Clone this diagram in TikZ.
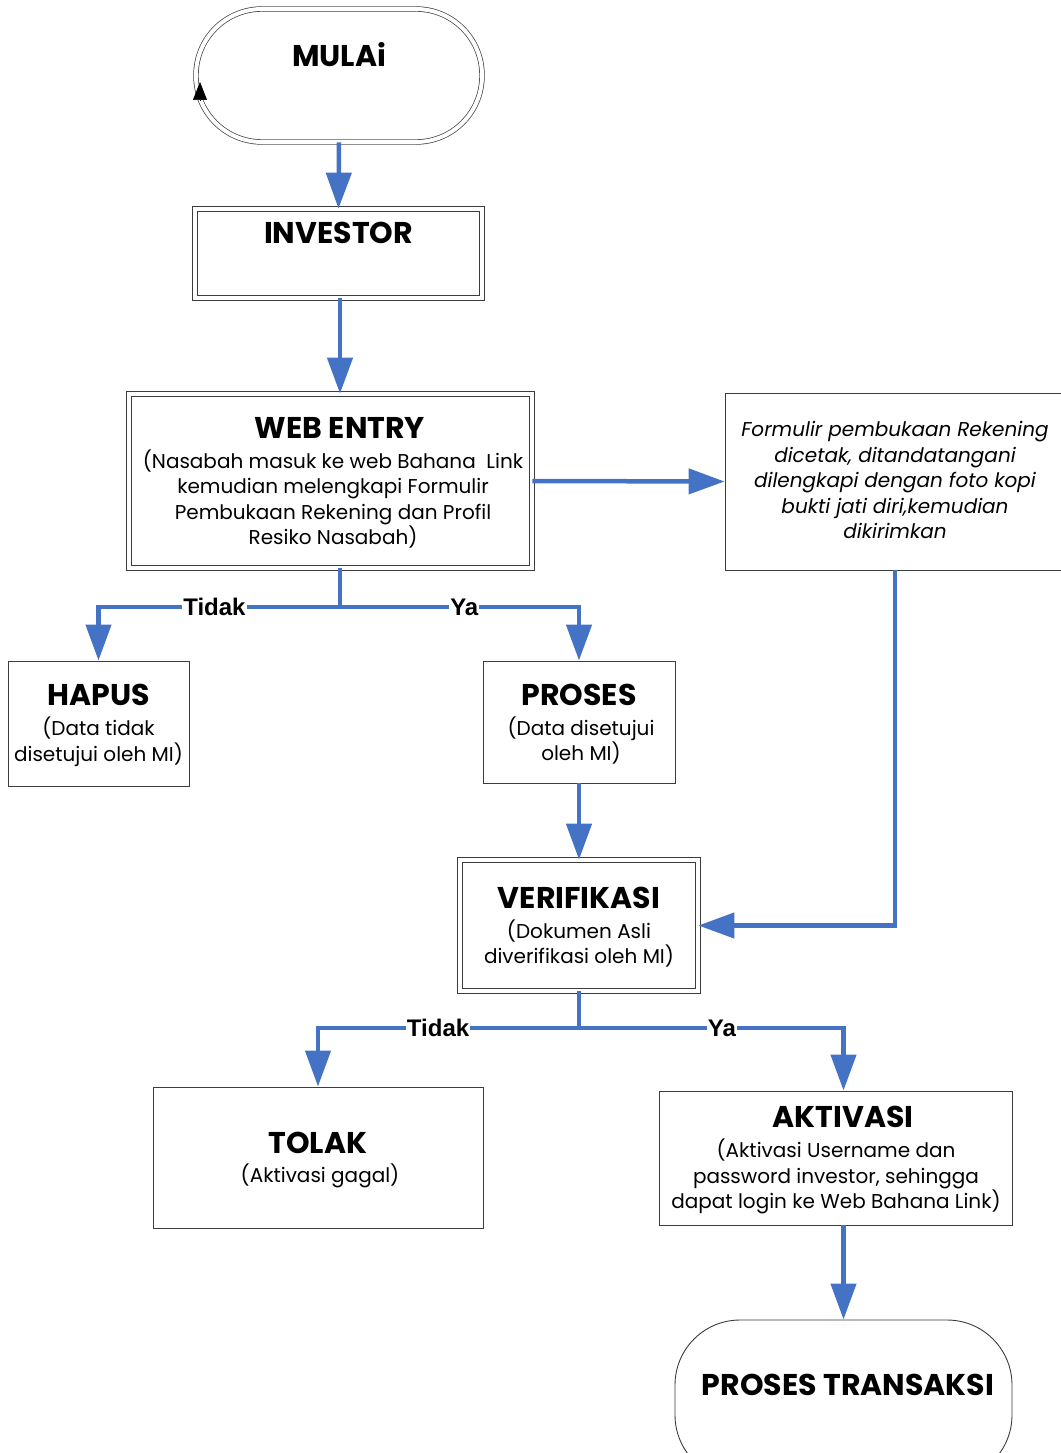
\documentclass[tikz,border=0pt]{standalone}
\usepackage{fontspec}
\setmainfont{Poppins}
\newfontfamily\arialfont{Liberation Sans}
\usetikzlibrary{arrows.meta}
\definecolor{biru}{RGB}{68,114,196}
\definecolor{abu}{RGB}{60,60,60}
\begin{document}
\begin{tikzpicture}[x=1pt, y=-1pt]
 \tikzset{kotak/.style={draw=abu, line width=0.9pt, inner sep=0pt},
          ganda/.style={kotak, double, double distance=4pt, line width=0.7pt},
          judul/.style={font=\fontsize{30}{34}\selectfont\bfseries},
          isi/.style={font=\fontsize{20}{25.5}\selectfont, align=center},
          panah/.style={draw=biru, line width=4.5pt, -{Triangle[length=36pt,width=25pt]}},
          garis/.style={draw=biru, line width=4.5pt},
          ket/.style={font=\arialfont\fontsize{24}{26}\selectfont\bfseries, fill=white, inner sep=1pt}}
 \useasboundingbox (0,0) rectangle (1060,1453);
  \node[ganda, rounded corners=66pt, minimum width=286pt, minimum height=133pt] (Mulai) at (339,75.5) {};
  \node[judul] (MulaiText) at (339,55) {MULAi};
  \node[ganda, minimum width=287pt, minimum height=89pt] (Investor) at (338.5,253.5) {};
  \node[judul] (InvestorText) at (338.5,233) {INVESTOR};
  \node[ganda, minimum width=403pt, minimum height=174pt] (WebEntry) at (330.5,481) {};
  \node[judul] (WebEntryText) at (340,428) {WEB ENTRY};
  \node[isi] (WebEntryIsi) at (333,499) {(Nasabah masuk ke web Bahana\ \ Link\\ kemudian melengkapi Formulir\\ Pembukaan Rekening dan Profil\\ Resiko Nasabah)};
  \node[kotak, minimum width=340pt, minimum height=177pt] (Formulir) at (895,481.5) {};
  \node[isi, font=\fontsize{20}{25.5}\selectfont\itshape] (FormulirIsi) at (895,480) {Formulir pembukaan Rekening\\ dicetak, ditandatangani\\ dilengkapi dengan foto kopi\\ bukti jati diri,kemudian\\ dikirimkan};
  \node[kotak, minimum width=181pt, minimum height=125pt] (Hapus) at (98.5,723.5) {};
  \node[judul] (HapusText) at (98.5,695) {HAPUS};
  \node[isi] (HapusIsi) at (98.5,742) {(Data tidak\\ disetujui oleh MI)};
  \node[kotak, minimum width=192pt, minimum height=122pt] (Proses) at (579,722) {};
  \node[judul] (ProsesText) at (579,695) {PROSES};
  \node[isi] (ProsesIsi) at (581,740.5) {(Data disetujui\\ oleh MI)};
  \node[ganda, minimum width=238pt, minimum height=131pt] (Verifikasi) at (579,925.5) {};
  \node[judul] (VerifikasiText) at (579,898) {VERIFIKASI};
  \node[isi] (VerifikasiIsi) at (579,943.5) {(Dokumen Asli\\ diverifikasi oleh MI)};
  \node[kotak, minimum width=330pt, minimum height=141pt] (Tolak) at (318,1157.5) {};
  \node[judul] (TolakText) at (318,1143) {TOLAK};
  \node[isi] (TolakIsi) at (320,1176) {(Aktivasi gagal)};
  \node[kotak, minimum width=353pt, minimum height=134pt] (Aktivasi) at (835.5,1158) {};
  \node[judul] (AktivasiText) at (843,1117) {AKTIVASI};
  \node[isi] (AktivasiIsi) at (836,1176.5) {(Aktivasi Username dan\\ password investor, sehingga\\ dapat login ke Web Bahana Link)};
  \node[kotak, rounded corners=65pt, minimum width=337pt, minimum height=160pt] (ProsesTransaksi) at (843.5,1400) {};
  \node[judul] (ProsesTransaksiText) at (848,1385) {PROSES TRANSAKSI};
  \coordinate (PanahKecil) at (200,101);
  \draw[black, line width=0.7pt, -{Triangle[length=18pt,width=14pt]}] (PanahKecil) -- ++(0,-19);
  \coordinate (CabangA) at (340,607);
  \coordinate (CabangB) at (579,1028);
  \draw[panah] (Mulai.south) -- (Investor.north);
  \draw[panah] (Investor.south -| CabangA) -- (WebEntry.north -| CabangA);
  \draw[panah] (WebEntry.east) -- (Formulir.west);
  \draw[panah] (Formulir.south) |- (Verifikasi.east);
  \draw[garis] (WebEntry.south -| CabangA) -- (CabangA);
  \draw[panah] (CabangA) -| node[ket, pos=0.26] (TidakA) {Tidak} (Hapus.north);
  \draw[panah] (CabangA) -| node[ket, pos=0.26] (YaA) {Ya} (Proses.north);
  \draw[panah] (Proses.south) -- (Verifikasi.north);
  \draw[garis] (Verifikasi.south) -- (CabangB);
  \draw[panah] (CabangB) -| node[ket, pos=0.27] (TidakB) {Tidak} (Tolak.north);
  \draw[panah] (CabangB) -| node[ket, pos=0.27] (YaB) {Ya} (ProsesTransaksi.north |- Aktivasi.north);
  \draw[panah] (ProsesTransaksi.north |- Aktivasi.south) -- (ProsesTransaksi.north);
\end{tikzpicture}
\end{document}
